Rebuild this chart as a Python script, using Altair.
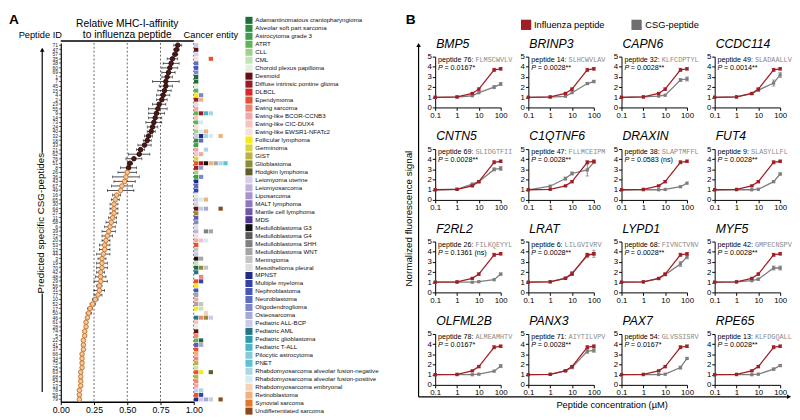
import altair as alt
import pandas as pd

FONT = "Liberation Sans"
MONO = "Liberation Mono"

# ---------------- Panel A data ----------------
peptide_ids = [71, 47, 57, 35, 38, 60, 69, 1, 7, 45,
               15, 4, 2, 23, 55, 9, 14, 73, 24, 40,
               32, 18, 33, 21, 62, 76, 51, 8, 26, 36,
               43, 67, 49, 16, 65, 30, 64, 27, 11, 58,
               6, 39, 72, 20, 53, 12, 44, 3, 19, 70,
               42, 48, 29, 56, 31, 77, 10, 52, 17, 50,
               46, 61, 28, 74, 5, 22, 41, 37, 66, 34,
               75, 25, 63, 68, 54, 13, 78, 59, 79]
affinity = [0.88, 0.87, 0.86, 0.84, 0.83, 0.82, 0.81, 0.80, 0.79, 0.79,
            0.78, 0.77, 0.76, 0.74, 0.73, 0.72, 0.71, 0.70, 0.69, 0.68,
            0.66, 0.65, 0.63, 0.60, 0.59, 0.55, 0.52, 0.51, 0.50, 0.49,
            0.48, 0.46, 0.45, 0.42, 0.41, 0.40, 0.40, 0.40, 0.39, 0.38,
            0.37, 0.36, 0.35, 0.34, 0.33, 0.33, 0.32, 0.31, 0.31, 0.31,
            0.30, 0.30, 0.30, 0.29, 0.29, 0.28, 0.26, 0.24, 0.22, 0.21,
            0.20, 0.19, 0.19, 0.18, 0.18, 0.17, 0.17, 0.17, 0.16, 0.16,
            0.16, 0.16, 0.15, 0.15, 0.15, 0.15, 0.14, 0.14, 0.14]
affinity_err = [0.03, 0.02, 0.02, 0.04, 0.06, 0.06, 0.05, 0.04, 0.10, 0.05,
                0.05, 0.05, 0.04, 0.05, 0.07, 0.06, 0.05, 0.06, 0.04, 0.03,
                0.03, 0.03, 0.05, 0.03, 0.08, 0.06, 0.02, 0.06, 0.07, 0.10,
                0.08, 0.08, 0.10, 0.03, 0.03, 0.03, 0.03, 0.03, 0.03, 0.04,
                0.04, 0.05, 0.04, 0.03, 0.04, 0.04, 0.05, 0.03, 0.04, 0.04,
                0.03, 0.04, 0.05, 0.02, 0.04, 0.03, 0.02, 0.02, 0.02, 0.02,
                0.01, 0.01, 0.01, 0.01, 0.01, 0.01, 0.01, 0.01, 0.01, 0.01,
                0.01, 0.01, 0.01, 0.01, 0.01, 0.01, 0.01, 0.01, 0.01]
n_dark = 28
x_ticks_A = [0, 0.25, 0.5, 0.75, 1.0]
grid_lines_A = [0.25, 0.5, 0.75, 1.0]

entities = ["Adamantinomatous craniopharyngioma", "Alveolar soft part sarcoma", "Astrocytoma grade 3",
            "ATRT", "CLL", "CML", "Choroid plexus papilloma", "Desmoid",
            "Diffuse intrinsic pontine glioma", "DLBCL", "Ependymoma", "Ewing sarcoma",
            "Ewing-like BCOR-CCNB3", "Ewing-like CIC-DUX4", "Ewing-like EWSR1-NFATc2",
            "Follicular lymphoma", "Germinoma", "GIST", "Glioblastoma", "Hodgkin lymphoma",
            "Leiomyoma uterine", "Leiomyosarcoma", "Liposarcoma", "MALT lymphoma",
            "Mantle cell lymphoma", "MDS", "Medulloblastoma G3", "Medulloblastoma G4",
            "Medulloblastoma SHH", "Medulloblastoma WNT", "Meningioma", "Mesothelioma pleural",
            "MPNST", "Multiple myeloma", "Nephroblastoma", "Neuroblastoma", "Oligodendroglioma",
            "Osteosarcoma", "Pediatric ALL-BCP", "Pediatric AML", "Pediatric glioblastoma",
            "Pediatric T-ALL", "Pilocytic astrocytoma", "PNET",
            "Rhabdomyosarcoma alveolar fusion-negative", "Rhabdomyosarcoma alveolar fusion-positive",
            "Rhabdomyosarcoma embryonal", "Retinoblastoma", "Synovial sarcoma",
            "Undifferentiated sarcoma"]
entity_colors = ["#1e6b3c", "#2f8a46", "#3da04e", "#62b25a", "#9fd18d", "#c5e3b8", "#e4f0dc",
                 "#641016", "#9b1b22", "#d42a2e", "#e4532f", "#ee8675", "#f2a8a3", "#f5c4c1",
                 "#f8dedd", "#f4ea1c", "#dcd43a", "#b8b443", "#8f8c36", "#5f5e2a", "#d8d1e5",
                 "#c0b3da", "#a694cb", "#8c79bd", "#6f55a8", "#4d3590", "#111111", "#585858",
                 "#808080", "#a5a5a5", "#c4c4c4", "#dedede", "#232c84", "#3342a6", "#4659b5",
                 "#5e6cbd", "#7e87c6", "#a4a9d6", "#cbc9e6", "#237486", "#2e9aaa", "#4db5c8",
                 "#88cbd8", "#5dc0d6", "#a9d8e2", "#d6ecf0", "#f5d2b4", "#f0b27c", "#e0782c",
                 "#8a4a1e"]
# entity index per grid cell, row by row (None = empty cell)
entity_rows = [[38], [7], [20], [14, None, None, 10], [35], [34], [36], [0], [0], [6],
               [3], [15, 36], [8, 47], [31], [12], [3, 8, 41, 44], [13], [3, 45], [14], [4, 45, 47],
               [38, 32, 44, 45, None, 47], [1, 35], [2], [12, None, 44], [13, 12], [16],
               [10, 8, 26, 47, 29, 44, 43], [8, 22], [4], [2, 36],
               [32], [35], [33], [6], [38, 45, 47], [20], [7, 38, 37, None, None, 49], [18], [24], [36],
               [31], [21, None, 28, 29], [14], [12, 13, 45], [10], [30], [38], [26, 29], [5], [0, 18, 30],
               [39], [None, 11], [10, 33], [15], [34], [29], [12], [29, 30], [15, 5], [None, None, 46],
               [39, 11, 18, 38], [13], [6], [7], [11], [3, 0], [24, 37], [10], [47], [11],
               [17], [5], [10, 15, None, 19], [17], [11], [12], [38, 44], [10, 33],
               [32, 38, 37, 38, None, 49]]

# ---------------- Panel B data ----------------
genes = ["BMP5", "BRINP3", "CAPN6", "CCDC114", "CNTN5", "C1QTNF6", "DRAXIN", "FUT4",
         "F2RL2", "LRAT", "LYPD1", "MYF5", "OLFML2B", "PANX3", "PAX7", "RPE65"]
peptide_no = [76, 14, 32, 49, 69, 47, 38, 9, 26, 6, 68, 42, 78, 71, 54, 13]
sequences = ["FLMSCWVLV", "SLHCWVLAV", "KLFCDPTYL", "SLADAALLV", "SLIDGTFII", "FLLMCEIPM",
             "SLAPTMFFL", "SLASYLLFL", "FILKQEYYL", "LILGVIVRV", "FIVNCTVNV", "GMPECNSPV",
             "ALMEAMHTV", "AIYTILVPV", "GLVSSISRV", "KLFDGQALL"]
p_values = ["= 0.0167*", "= 0.0028**", "= 0.0028**", "= 0.0014**", "= 0.0028**", "= 0.0028**",
            "= 0.0583 (ns)", "= 0.0028**", "= 0.1361 (ns)", "= 0.0028**", "= 0.0028**", "= 0.0028**",
            "= 0.0167*", "= 0.0028**", "= 0.0167*", "= 0.0028**"]
concentrations = [0.1, 1, 5, 10, 50, 100]
influenza_mean = [[1.0, 1.04, 1.38, 1.8, 3.7, 3.8]] * 16
influenza_err = [[0, 0, 0.05, 0.12, 0.15, 0.12]] * 16
csg_mean = [[1.0, 1.02, 1.15, 1.45, 2.0, 2.3],
            [1.0, 1.02, 1.1, 1.45, 2.35, 2.55],
            [1.0, 1.03, 1.12, 1.2, 2.7, 2.8],
            [1.0, 1.03, 1.35, 1.7, 2.4, 3.2],
            [1.0, 1.05, 1.55, 1.8, 3.0, 3.1],
            [1.0, 1.35, 2.1, 2.6, 2.95, 3.7],
            [1.0, 1.0, 1.0, 1.03, 1.3, 1.65],
            [1.0, 1.0, 1.0, 1.05, 1.8, 2.55],
            [1.0, 1.0, 1.0, 1.05, 1.25, 1.8],
            [1.0, 1.05, 1.4, 1.9, 3.6, 3.8],
            [1.0, 1.03, 1.35, 1.75, 2.8, 3.5],
            [1.0, 1.03, 1.15, 1.3, 2.4, 2.4],
            [1.0, 1.0, 1.0, 1.05, 1.35, 1.85],
            [1.0, 1.03, 1.4, 1.7, 3.3, 3.4],
            [1.0, 1.0, 1.02, 1.05, 1.7, 2.6],
            [1.0, 1.0, 1.0, 1.05, 1.55, 1.9]]
csg_err = [[0, 0, 0, 0, 0.15, 0.15], [0, 0, 0, 0, 0.1, 0.12], [0, 0, 0, 0, 0.15, 0.2],
           [0, 0, 0, 0.1, 0.3, 0.25], [0, 0, 0.1, 0.1, 0.15, 0.2], [0, 0, 0.15, 0.15, 0.6, 0.1],
           [0, 0, 0, 0, 0, 0], [0, 0, 0, 0, 0.1, 0.1], [0, 0, 0, 0, 0, 0.1],
           [0, 0, 0.1, 0.15, 0.2, 0.35], [0, 0, 0, 0.1, 0.25, 0.2], [0, 0, 0, 0.1, 0.2, 0.2],
           [0, 0, 0, 0, 0, 0.15], [0, 0, 0.1, 0.1, 0.2, 0.2], [0, 0, 0, 0, 0.15, 0.1],
           [0, 0, 0, 0, 0.1, 0.1]]
series_names = ["Influenza peptide", "CSG-peptide"]

RED = "#a01f26"
GREY = "#7d7d7d"


# ---------------- helpers for decoration ----------------
def one():
    return pd.DataFrame({"k": [0]})


def txt(text, x, y, size, **kw):
    return alt.Chart(one()).mark_text(text=text, fontSize=size, font=kw.pop("font", FONT),
                                      **kw).encode(x=alt.value(x), y=alt.value(y))


def vrule(x, y1, y2, w=1.2):
    return alt.Chart(one()).mark_rule(color="black", strokeWidth=w).encode(
        x=alt.value(x), y=alt.value(y1), y2=alt.value(y2))


def hrule(x1, x2, y, w=1.2):
    return alt.Chart(one()).mark_rule(color="black", strokeWidth=w).encode(
        x=alt.value(x1), x2=alt.value(x2), y=alt.value(y))


def arrowhead(x, y, shape):
    return alt.Chart(one()).mark_point(shape=shape, filled=True, size=22, color="black",
                                       opacity=1).encode(x=alt.value(x), y=alt.value(y))


# ---------------- Panel A: dot plot ----------------
H_A = 367
ids = [str(v) for v in peptide_ids]
dfA = pd.DataFrame({"pid": ids, "val": affinity, "err": affinity_err,
                    "grp": ["dark"] * n_dark + ["light"] * (len(ids) - n_dark)})
dfA["lo"] = dfA["val"] - dfA["err"]
dfA["hi"] = dfA["val"] + dfA["err"]

axA = alt.Axis(values=x_ticks_A, format=".2f", labelFontSize=9, tickSize=3, tickColor="black",
               domainColor="black", domainWidth=1.5, labelPadding=1.5, grid=False,
               labelFlush=False, labelColor="black", title=None)


def xA(f):
    return alt.X(f, scale=alt.Scale(domain=[0, 1], nice=False, zero=False), axis=axA, title=None)


yA = alt.Y("pid:N", scale=alt.Scale(type="band", domain=ids, paddingInner=0, paddingOuter=0),
           axis=alt.Axis(title=None, labelFontSize=5, labelPadding=1, tickSize=2.5, tickWidth=0.6,
                         domainColor="black", domainWidth=1.2, tickColor="black",
                         labelColor="#222", labelOverlap=False, grid=False),
           title=None)

baseA = alt.Chart(dfA)
dots = alt.layer(
    alt.Chart(pd.DataFrame({"g": grid_lines_A})).mark_rule(
        strokeDash=[2, 2], color="#555", strokeWidth=0.9).encode(x=xA("g:Q")),
    alt.Chart(pd.DataFrame({"a": [0.0], "b": [1.0]})).mark_rule(
        color="black", strokeWidth=1.5).encode(x=xA("a:Q"), x2="b:Q", y=alt.value(-1.9)),
    baseA.mark_rule(color="black", strokeWidth=0.7).encode(x=xA("lo:Q"), x2="hi:Q", y=yA),
    baseA.mark_tick(orient="vertical", size=3, thickness=0.7, color="black").encode(x=xA("lo:Q"), y=yA),
    baseA.mark_tick(orient="vertical", size=3, thickness=0.7, color="black").encode(x=xA("hi:Q"), y=yA),
    baseA.mark_point(filled=True, size=22, strokeWidth=0.9, opacity=1, shape="circle").encode(
        x=xA("val:Q"), y=yA,
        fill=alt.Fill("grp:N", scale=alt.Scale(domain=["dark", "light"], range=["#4a1818", "#f2c89c"]),
                      legend=None),
        stroke=alt.Stroke("grp:N", scale=alt.Scale(domain=["dark", "light"], range=["#2a0a0a", "#c46e28"]),
                          legend=None)),
    txt("A", -48, -23.5, 14, fontWeight="bold"),
    txt("Peptide ID", -21, -7.9, 9.5),
    txt("Relative MHC-I-affinity", 68, -19.7, 10.5),
    txt("to influenza peptide", 68, -7.9, 10.5),
    txt("Cancer entity", 153.5, -7.9, 9.5),
    txt("Predicted specific CSG-peptides", -20, 184.4, 10, angle=270, baseline="middle"),
    vrule(-19, 7, 112.4),
    vrule(-19, 256.3, 357),
    arrowhead(-19, 7, "triangle-up"),
).properties(width=136, height=H_A)

# ---------------- Panel A: cancer-entity grid ----------------
cells = []
for r, row in enumerate(entity_rows):
    for c, e in enumerate(row):
        if e is not None:
            cells.append({"pid": ids[r], "col": c, "ent": entities[e]})
dfG = pd.DataFrame(cells)
grid = alt.Chart(dfG).mark_rect().encode(
    x=alt.X("col:O", scale=alt.Scale(domain=list(range(7)), paddingInner=0.12, paddingOuter=0.06), axis=None),
    y=alt.Y("pid:N", scale=alt.Scale(type="band", domain=ids, paddingInner=0.12, paddingOuter=0.06), axis=None),
    color=alt.Color("ent:N", scale=alt.Scale(domain=entities, range=entity_colors), legend=None),
).properties(width=35, height=H_A)

# ---------------- Panel A: entity legend ----------------
dfL = pd.DataFrame({"idx": list(range(len(entities))), "name": entities})
yL = alt.Y("idx:Q", scale=alt.Scale(domain=[2.832, 47.82], reverse=True, nice=False, zero=False), axis=None)
legendA = alt.layer(
    alt.Chart(dfL).mark_square(size=52, opacity=1).encode(
        x=alt.value(21.5), y=yL,
        color=alt.Color("name:N", scale=alt.Scale(domain=entities, range=entity_colors), legend=None)),
    alt.Chart(dfL).mark_text(align="left", baseline="middle", fontSize=6.3, font=FONT, color="#111").encode(
        x=alt.value(28), y=yL, text="name:N"),
).properties(width=10, height=H_A)

panelA = alt.hconcat(dots, grid, legendA, spacing=0, bounds="flush")


# ---------------- Panel B: small multiples ----------------
def text_w(s, size):
    widths = {"p": 556, "e": 556, "t": 278, "i": 222, "d": 556, " ": 278, ":": 278}
    return sum(widths.get(ch, 556) for ch in s) * size / 1000.0


axXB = alt.Axis(values=[0.1, 1, 10, 100], format="~g", labelFontSize=8, tickSize=3, labelPadding=1,
                domainColor="black", tickColor="black", labelColor="black", grid=False,
                labelFlush=False, title=None)
axYB = alt.Axis(values=[0, 1, 2, 3, 4, 5], labelFontSize=8, tickSize=3, labelPadding=1,
                domainColor="black", tickColor="black", labelColor="black", grid=False, title=None)

H_B = 52
TOP1 = 14   # first row starts this far below the top of panel A's plot


def xB(f):
    return alt.X(f, scale=alt.Scale(type="log", domain=[0.1, 100], nice=False), axis=axXB, title=None)


def yB(f, top):
    if top:
        sc = alt.Scale(domain=[0, 5], range=[H_B + top, top], nice=False, zero=False)
    else:
        sc = alt.Scale(domain=[0, 5], nice=False, zero=False)
    return alt.Y(f, scale=sc, axis=axYB, title=None)


small = []
for i, g in enumerate(genes):
    top = TOP1 if i < 4 else 0
    rows = []
    for j, c in enumerate(concentrations):
        rows.append({"c": c, "v": influenza_mean[i][j], "e": influenza_err[i][j], "s": series_names[0]})
        rows.append({"c": c, "v": csg_mean[i][j], "e": csg_err[i][j], "s": series_names[1]})
    df = pd.DataFrame(rows)
    df["lo"] = df["v"] - df["e"]
    df["hi"] = df["v"] + df["e"]
    layers = []
    for s, col in [(series_names[1], GREY), (series_names[0], RED)]:
        sub = alt.Chart(df).transform_filter(alt.datum.s == s)
        errs = sub.transform_filter(alt.datum.e > 0)
        layers += [
            sub.mark_line(color=col, strokeWidth=1.3).encode(x=xB("c:Q"), y=yB("v:Q", top)),
            errs.mark_rule(color=col, strokeWidth=0.9).encode(x=xB("c:Q"), y=yB("lo:Q", top), y2="hi:Q"),
            errs.mark_tick(color=col, orient="horizontal", size=4, thickness=0.9).encode(
                x=xB("c:Q"), y=yB("lo:Q", top)),
            errs.mark_tick(color=col, orient="horizontal", size=4, thickness=0.9).encode(
                x=xB("c:Q"), y=yB("hi:Q", top)),
            sub.mark_square(color=col, size=11, opacity=1).encode(x=xB("c:Q"), y=yB("v:Q", top)),
        ]
    lab = f"peptide {peptide_no[i]}:"
    layers += [
        txt(g, 1, top - 9, 12.5, align="left", baseline="alphabetic", fontStyle="italic"),
        txt(lab, 3, top + 3.5, 7.3, align="left", baseline="middle"),
        txt(sequences[i], 3 + text_w(lab + " ", 7.3), top + 3.5, 7, align="left", baseline="middle",
            font=MONO, color="#8a8a8a"),
        txt("P", 3, top + 11.5, 7.3, align="left", baseline="middle", fontStyle="italic"),
        txt(p_values[i], 9.5, top + 11.5, 7.3, align="left", baseline="middle"),
    ]
    if i == 0:
        layers += [
            txt("B", -25, top - 37.3, 14, fontWeight="bold"),
            alt.Chart(one()).mark_square(size=110, color=RED, opacity=1).encode(
                x=alt.value(93), y=alt.value(top - 32.5)),
            txt(series_names[0], 101, top - 32.5, 9.5, align="left", baseline="middle"),
            alt.Chart(one()).mark_square(size=110, color="#6e6e6e", opacity=1).encode(
                x=alt.value(206), y=alt.value(top - 32.5)),
            txt(series_names[1], 215, top - 32.5, 9.5, align="left", baseline="middle"),
            txt("Normalized fluorescence signal", -27, top + 165.7, 10, angle=270, baseline="middle"),
            vrule(-17, top - 11.8, top + 348),
            arrowhead(-17, top - 11.8, "triangle-up"),
            hrule(-17, 362, top + 348),
            arrowhead(362, top + 348, "triangle-right"),
            txt("Peptide concentration (\u00b5M)", 181, top + 356, 9.5),
        ]
    small.append(alt.layer(*layers).properties(width=67, height=H_B + top))

panelB = alt.concat(*small, columns=4, spacing={"row": 42.6, "column": 28.3}, bounds="flush")

chart = alt.hconcat(panelA, panelB, spacing=25).properties(padding=0).configure(
    font=FONT).configure_view(stroke=None)

chart.save("out.html", embed_options={"renderer": "svg", "actions": False})
